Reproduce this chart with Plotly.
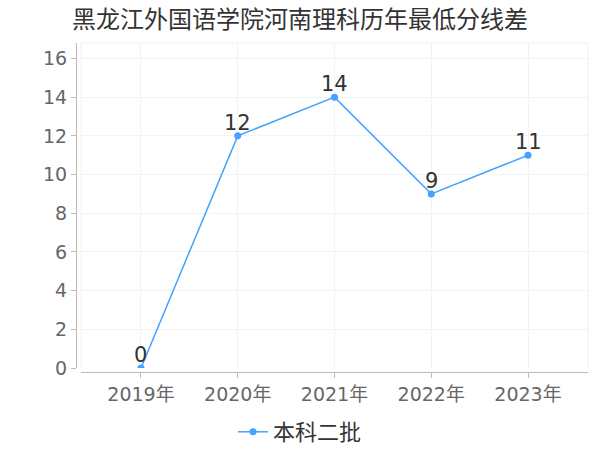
import plotly.graph_objects as go

title_text = "黑龙江外国语学院河南理科历年最低分线差"
years = ["2019年", "2020年", "2021年", "2022年", "2023年"]
values = [0, 12, 14, 9, 11]
series_name = "本科二批"
y_ticks = [0, 2, 4, 6, 8, 10, 12, 14, 16]

W, H = 600, 450
L, R, T, B = 76, 12, 43, 78
pw, ph = W - L - R, H - T - B
x0 = (81 - L) / pw
y0 = (372 - 368) / ph

font_fam = "DejaVu Sans, Noto Sans CJK SC, sans-serif"
blue = "#45a2ff"

fig = go.Figure()
fig.add_trace(go.Scatter(
    x=list(range(len(years))), y=values, mode="lines+markers",
    name=series_name,
    line=dict(color=blue, width=1.5),
    marker=dict(color=blue, size=7),
    cliponaxis=True,
))

for i, v in enumerate(values):
    fig.add_annotation(x=i, y=v, xref="x", yref="y", text=str(v),
                       showarrow=False, yanchor="bottom", xanchor="center",
                       yshift=-1,
                       font=dict(family=font_fam, size=21, color="#333333"))

fig.update_layout(
    width=W, height=H,
    margin=dict(l=L, r=R, t=T, b=B, autoexpand=False),
    paper_bgcolor="white", plot_bgcolor="white",
    title=dict(text=title_text, x=72 / W, xref="container", xanchor="left",
               y=1 - 20 / H, yref="container", yanchor="middle",
               font=dict(family="Noto Sans CJK SC, sans-serif", size=24, color="#333333")),
    showlegend=True,
    legend=dict(orientation="h", x=0.5, xref="container", xanchor="center",
                y=1 - 432 / H, yref="container", yanchor="middle",
                font=dict(family="Noto Sans CJK SC, sans-serif", size=22, color="#333333"),
                itemwidth=30),
    xaxis=dict(domain=[x0, 1], anchor="free", position=0, automargin=False,
               range=[-0.62, 4.62], tickmode="array",
               tickvals=list(range(len(years))), ticktext=years,
               showgrid=True, gridcolor="#f3f3f3", zeroline=False,
               showline=True, linecolor="#bbbbbb", linewidth=1,
               ticks="outside", ticklen=5, tickcolor="#bbbbbb",
               tickfont=dict(family=font_fam, size=19, color="#666666")),
    yaxis=dict(domain=[y0, 1], anchor="free", position=0, automargin=False,
               range=[0, 16.8], tickmode="array", tickvals=y_ticks,
               showgrid=True, gridcolor="#f3f3f3", zeroline=False,
               showline=True, linecolor="#bbbbbb", linewidth=1,
               ticks="outside", ticklen=5, tickcolor="#bbbbbb",
               tickfont=dict(family=font_fam, size=19, color="#666666")),
    shapes=[
        dict(type="line", xref="paper", yref="paper", x0=x0, x1=1, y0=1, y1=1,
             line=dict(color="#f0f0f0", width=1)),
        dict(type="line", xref="paper", yref="paper", x0=1, x1=1, y0=y0, y1=1,
             line=dict(color="#f0f0f0", width=1)),
        dict(type="line", xref="paper", yref="paper", x0=x0, x1=x0, y0=y0, y1=1,
             line=dict(color="#f0f0f0", width=1)),
    ],
)

fig.write_html("out.html", config={"displayModeBar": False},
               post_script="document.body.style.margin='0';")
